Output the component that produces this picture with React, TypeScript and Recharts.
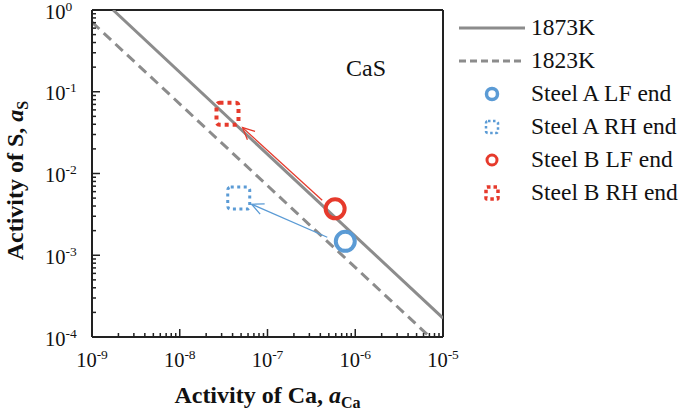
import React from "react";
import {
  ComposedChart,
  XAxis,
  YAxis,
  Line,
  Scatter,
  ReferenceLine,
  ReferenceDot,
  Legend,
  Label,
} from "recharts";

const FONT = "Liberation Serif, Tinos, Times New Roman, serif";
const GRAY = "#8c8c8c";
const BLUE = "#5b9bd5";
const RED = "#e63a2c";
const AXIS = "#222";

// decades shown on each axis
const xDecades = [1e-9, 1e-8, 1e-7, 1e-6, 1e-5];
const yDecades = [1e-4, 1e-3, 1e-2, 1e-1, 1];
const minorSteps = [2, 3, 4, 5, 6, 7, 8, 9];

// equilibrium lines (end points)
const line1873 = [
  { x: 1.74e-9, y: 1 },
  { x: 1e-5, y: 1.7e-4 },
];
const line1823 = [
  { x: 1e-9, y: 0.71 },
  { x: 7.1e-6, y: 1e-4 },
];

// measured points
const steelALF = [{ x: 7.7e-7, y: 1.48e-3 }];
const steelARH = [{ x: 4.7e-8, y: 5.0e-3 }];
const steelBLF = [{ x: 5.9e-7, y: 3.7e-3 }];
const steelBRH = [{ x: 3.5e-8, y: 0.054 }];

// arrows LF -> RH
const arrowA = [
  { x: 4.8e-7, y: 1.66e-3 },
  { x: 6.6e-8, y: 4.2e-3 },
];
const arrowB = [
  { x: 4.2e-7, y: 4.7e-3 },
  { x: 5.2e-8, y: 0.0364 },
];

const legendItems = [
  { name: "1873K", kind: "solid" },
  { name: "1823K", kind: "dashed" },
  { name: "Steel A LF end", kind: "aLF" },
  { name: "Steel A RH end", kind: "aRH" },
  { name: "Steel B LF end", kind: "bLF" },
  { name: "Steel B RH end", kind: "bRH" },
];

const withMinors = (decades: number[]) => {
  const out: number[] = [];
  decades.forEach((d, i) => {
    out.push(d);
    if (i < decades.length - 1) minorSteps.forEach((m) => out.push(d * m));
  });
  return out;
};
const xTicks = withMinors(xDecades);
const yTicks = withMinors(yDecades);

const exponentOf = (v: number) => {
  const l = Math.log10(v);
  const e = Math.round(l);
  return { e, major: Math.abs(l - e) < 1e-6 };
};

const txt = { fontFamily: FONT, fill: "#111" };

const XTick = (props: any) => {
  const { x, y, payload } = props;
  const { e, major } = exponentOf(payload.value);
  return (
    <g>
      <line x1={x} x2={x} y1={y} y2={y - (major ? 8 : 4)} stroke={AXIS} strokeWidth={1.5} />
      {major && (
        <text x={x} y={y + 30} textAnchor="middle" fontSize={20.5} style={txt}>
          10
          <tspan dy={-8} fontSize={13.5}>
            {e}
          </tspan>
        </text>
      )}
    </g>
  );
};

const YTick = (props: any) => {
  const { x, y, payload } = props;
  const { e, major } = exponentOf(payload.value);
  return (
    <g>
      <line x1={x} x2={x + (major ? 8 : 4)} y1={y} y2={y} stroke={AXIS} strokeWidth={1.5} />
      {major && (
        <text x={x - 47} y={y + 8.5} textAnchor="start" fontSize={20.5} style={txt}>
          10
          <tspan dy={-8} fontSize={13.5}>
            {e}
          </tspan>
        </text>
      )}
    </g>
  );
};

const XTitle = (props: any) => {
  const { x, y, width } = props.viewBox;
  return (
    <text x={x + width / 2} y={y + 66} textAnchor="middle" fontSize={24} fontWeight="bold" style={txt}>
      Activity of Ca,{" "}
      <tspan fontStyle="italic">a</tspan>
      <tspan dy={5} fontSize={16}>Ca</tspan>
    </text>
  );
};

const YTitle = (props: any) => {
  const { y, height } = props.viewBox;
  const cx = 23;
  const cy = y + height / 2 + 7;
  return (
    <text
      x={cx}
      y={cy}
      transform={`rotate(-90 ${cx} ${cy})`}
      textAnchor="middle"
      fontSize={24}
      fontWeight="bold"
      style={txt}
    >
      Activity of S,{" "}
      <tspan fontStyle="italic">a</tspan>
      <tspan dy={5} fontSize={16}>S</tspan>
    </text>
  );
};

const ringShape = (color: string) => (p: any) =>
  <circle cx={p.cx} cy={p.cy} r={9.5} fill="none" stroke={color} strokeWidth={4} />;

const dottedShape = (color: string, w: number, dash: string) => (p: any) =>
  (
    <rect
      x={p.cx - 11}
      y={p.cy - 11}
      width={22}
      height={22}
      rx={3}
      fill="none"
      stroke={color}
      strokeWidth={w}
      strokeDasharray={dash}
    />
  );

const arrowShape = (color: string) => (p: any) => {
  const { x1, y1, x2, y2 } = p;
  const ang = Math.atan2(y2 - y1, x2 - x1);
  const len = 13;
  const spread = 0.45;
  const ax = x2 - len * Math.cos(ang - spread);
  const ay = y2 - len * Math.sin(ang - spread);
  const bx = x2 - len * Math.cos(ang + spread);
  const by = y2 - len * Math.sin(ang + spread);
  return (
    <g>
      <line x1={x1} y1={y1} x2={x2} y2={y2} stroke={color} strokeWidth={1.3} />
      <polyline points={`${ax},${ay} ${x2},${y2} ${bx},${by}`} fill="none" stroke={color} strokeWidth={1.3} />
    </g>
  );
};

const legendMarker = (kind: string, cy: number) => {
  const cx = 42;
  switch (kind) {
    case "solid":
      return <line x1={9} x2={75} y1={cy} y2={cy} stroke={GRAY} strokeWidth={3} />;
    case "dashed":
      return <line x1={9} x2={75} y1={cy} y2={cy} stroke={GRAY} strokeWidth={3} strokeDasharray="7 4" />;
    case "aLF":
      return <circle cx={cx} cy={cy} r={5.5} fill="none" stroke={BLUE} strokeWidth={3.5} />;
    case "aRH":
      return <rect x={cx - 6} y={cy - 6} width={12} height={12} rx={2} fill="none" stroke={BLUE} strokeWidth={2.5} strokeDasharray="2.5 2.5" />;
    case "bLF":
      return <circle cx={cx} cy={cy} r={5} fill="none" stroke={RED} strokeWidth={3} />;
    default:
      return <rect x={cx - 6} y={cy - 6} width={12} height={12} rx={1} fill="none" stroke={RED} strokeWidth={3.5} strokeDasharray="3.5 3" />;
  }
};

const renderLegend = () => (
  <svg width={234} height={210} style={{ display: "block" }}>
    {legendItems.map((it, i) => {
      const cy = 28 + i * 33;
      return (
        <g key={it.name}>
          {legendMarker(it.kind, cy)}
          <text x={81} y={cy + 7} fontSize={23.5} style={txt}>
            {it.name}
          </text>
        </g>
      );
    })}
  </svg>
);

export default function App() {
  return (
    <div style={{ position: "absolute", left: 0, top: 0, background: "#fff" }}>
      <ComposedChart width={684} height={412} margin={{ top: 10, right: 241, bottom: 35, left: 32 }}>
        <XAxis
          type="number"
          dataKey="x"
          scale="log"
          domain={[1e-9, 1e-5]}
          allowDataOverflow
          ticks={xTicks}
          interval={0}
          tick={XTick}
          tickLine={false}
          tickSize={0}
          tickMargin={0}
          height={40}
          axisLine={{ stroke: AXIS, strokeWidth: 2 }}
        >
          <Label content={XTitle} />
        </XAxis>
        <YAxis
          type="number"
          dataKey="y"
          scale="log"
          domain={[1e-4, 1]}
          allowDataOverflow
          ticks={yTicks}
          interval={0}
          tick={YTick}
          tickLine={false}
          tickSize={0}
          tickMargin={0}
          width={60}
          axisLine={{ stroke: AXIS, strokeWidth: 2 }}
        >
          <Label content={YTitle} />
        </YAxis>
        <ReferenceLine y={1} stroke={AXIS} strokeWidth={2} />
        <ReferenceLine x={1e-5} stroke={AXIS} strokeWidth={2} />
        <Legend
          layout="vertical"
          align="center"
          verticalAlign="middle"
          content={renderLegend}
          wrapperStyle={{ position: "absolute", left: 450, top: 0, width: 234, height: 210 }}
        />
        <Line data={line1873} dataKey="y" stroke={GRAY} strokeWidth={3} dot={false} isAnimationActive={false} />
        <Line
          data={line1823}
          dataKey="y"
          stroke={GRAY}
          strokeWidth={3}
          strokeDasharray="10 6"
          dot={false}
          isAnimationActive={false}
        />
        <ReferenceLine segment={arrowA} shape={arrowShape(BLUE)} />
        <ReferenceLine segment={arrowB} shape={arrowShape(RED)} />
        <Scatter data={steelALF} shape={ringShape(BLUE)} isAnimationActive={false} />
        <Scatter data={steelARH} shape={dottedShape(BLUE, 3, "3 3.5")} isAnimationActive={false} />
        <Scatter data={steelBLF} shape={ringShape(RED)} isAnimationActive={false} />
        <Scatter data={steelBRH} shape={dottedShape(RED, 4, "4 4")} isAnimationActive={false} />
        <ReferenceDot
          x={1.33e-6}
          y={0.2}
          r={0}
          stroke="none"
          label={{ value: "CaS", position: "center", fontSize: 24, style: txt }}
        />
      </ComposedChart>
    </div>
  );
}
